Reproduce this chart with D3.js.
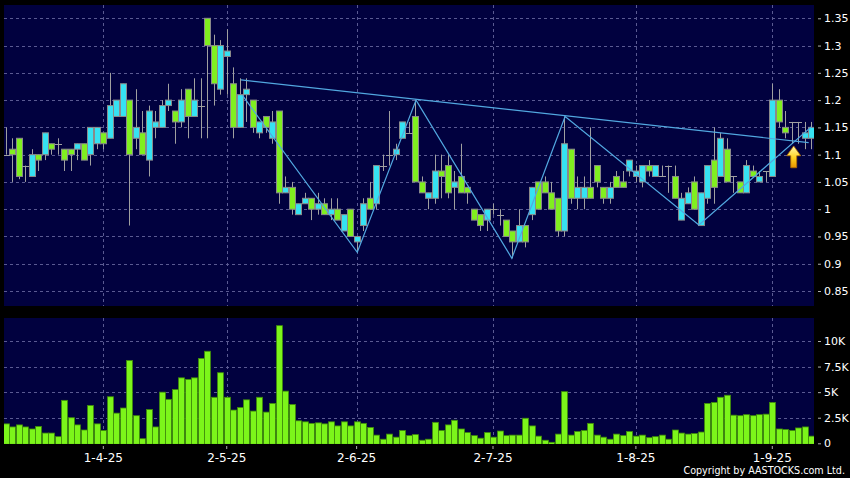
<!DOCTYPE html>
<html><head><meta charset="utf-8">
<script src="https://cdn.jsdelivr.net/npm/d3@7"></script>
<style>
html,body{margin:0;padding:0;background:#000;}
svg{display:block;}
text{font-family:"DejaVu Sans",Verdana,sans-serif;fill:#fff;}
</style></head><body>
<svg id="c" width="850" height="478"></svg>
<script>
// ---------- DATA ----------
const dates = [
 "11-3-25","12-3-25","13-3-25","14-3-25","17-3-25","18-3-25","19-3-25","20-3-25","21-3-25","24-3-25","25-3-25","26-3-25","27-3-25","28-3-25","31-3-25",
 "1-4-25","2-4-25","3-4-25","7-4-25","8-4-25","9-4-25","10-4-25","11-4-25","14-4-25","15-4-25","16-4-25","17-4-25","22-4-25","23-4-25","24-4-25","25-4-25","28-4-25","29-4-25","30-4-25",
 "2-5-25","6-5-25","7-5-25","8-5-25","9-5-25","12-5-25","13-5-25","14-5-25","15-5-25","16-5-25","19-5-25","20-5-25","21-5-25","22-5-25","23-5-25","26-5-25","27-5-25","28-5-25","29-5-25","30-5-25",
 "2-6-25","3-6-25","4-6-25","5-6-25","6-6-25","9-6-25","10-6-25","11-6-25","12-6-25","13-6-25","16-6-25","17-6-25","18-6-25","19-6-25","20-6-25","23-6-25","24-6-25","25-6-25","26-6-25","27-6-25","30-6-25",
 "2-7-25","3-7-25","4-7-25","7-7-25","8-7-25","9-7-25","10-7-25","11-7-25","14-7-25","15-7-25","16-7-25","17-7-25","18-7-25","21-7-25","22-7-25","23-7-25","24-7-25","25-7-25","28-7-25","29-7-25","30-7-25","31-7-25",
 "1-8-25","4-8-25","5-8-25","6-8-25","7-8-25","8-8-25","11-8-25","12-8-25","13-8-25","14-8-25","15-8-25","18-8-25","19-8-25","20-8-25","21-8-25","22-8-25","25-8-25","26-8-25","27-8-25","28-8-25","29-8-25",
 "1-9-25","2-9-25","3-9-25","4-9-25","5-9-25","8-9-25","9-9-25"];

const open = [1.10,1.11,1.13,1.08,1.06,1.10,1.10,1.12,1.12,1.11,1.11,1.11,1.12,1.10,1.12,
 1.14,1.13,1.17,1.17,1.20,1.13,1.14,1.09,1.15,1.15,1.19,1.18,1.16,1.22,1.17,1.19,1.35,1.30,1.22,
 1.28,1.23,1.15,1.21,1.20,1.14,1.17,1.13,1.18,1.03,1.04,0.99,1.01,1.02,1.00,1.01,0.99,1.00,0.96,1.00,
 0.94,0.97,1.02,1.01,1.08,1.10,1.10,1.13,1.14,1.17,1.05,1.02,1.02,1.07,1.08,1.04,1.06,1.04,1.00,0.99,0.98,
 1.00,0.99,0.98,0.96,0.94,0.97,0.99,1.05,1.05,1.03,1.02,0.96,1.11,1.02,1.02,1.04,1.08,1.04,1.02,1.06,1.05,1.07,
 1.06,1.05,1.08,1.06,1.06,1.08,1.06,0.98,1.01,1.05,0.97,1.02,1.09,1.06,1.11,1.06,1.05,1.03,1.07,1.05,1.07,
 1.06,1.20,1.15,1.16,1.16,1.13,1.13];
const high = [1.15,1.13,1.13,1.08,1.11,1.10,1.14,1.12,1.13,1.11,1.11,1.12,1.12,1.15,1.15,
 1.14,1.25,1.20,1.23,1.20,1.22,1.18,1.19,1.18,1.20,1.23,1.18,1.22,1.22,1.24,1.24,1.35,1.32,1.31,
 1.33,1.26,1.24,1.24,1.20,1.16,1.17,1.18,1.18,1.06,1.05,1.01,1.03,1.02,1.03,1.02,1.02,1.02,0.99,1.00,
 0.95,1.02,1.05,1.08,1.10,1.18,1.12,1.16,1.16,1.20,1.06,1.03,1.10,1.10,1.10,1.07,1.12,1.04,1.00,0.99,1.00,
 1.01,1.00,0.98,0.96,1.00,0.97,1.04,1.05,1.06,1.05,1.02,1.17,1.11,1.06,1.06,1.15,1.08,1.04,1.05,1.07,1.07,1.09,
 1.08,1.08,1.09,1.08,1.08,1.08,1.08,1.03,1.04,1.06,1.03,1.08,1.15,1.14,1.13,1.06,1.05,1.09,1.08,1.07,1.07,
 1.23,1.22,1.18,1.16,1.16,1.16,1.16];
const low = [1.10,1.05,1.055,1.05,1.06,1.07,1.09,1.10,1.10,1.07,1.07,1.09,1.09,1.08,1.11,
 1.11,1.13,1.17,1.17,0.97,1.11,1.10,1.06,1.13,1.15,1.18,1.12,1.15,1.13,1.17,1.13,1.13,1.19,1.21,
 1.21,1.13,1.15,1.16,1.14,1.13,1.14,1.12,1.01,1.03,0.99,0.99,1.01,0.98,0.99,0.99,0.98,0.98,0.96,0.95,
 0.92,0.96,1.00,1.00,1.07,1.08,1.09,1.13,1.14,1.05,1.03,1.00,1.01,1.02,1.02,1.00,1.03,1.01,0.98,0.96,0.96,
 0.99,0.97,0.95,0.91,0.94,0.93,0.98,1.00,1.03,1.00,0.95,0.95,1.01,1.00,1.00,1.02,1.04,1.01,1.01,1.04,1.04,1.06,
 1.05,1.04,1.06,1.06,1.06,1.03,1.02,0.98,1.01,1.00,0.97,1.01,1.01,1.06,1.05,1.03,1.03,1.03,1.06,1.05,1.05,
 1.06,1.15,1.13,1.12,1.12,1.11,1.11];
const close = [1.10,1.10,1.06,1.08,1.10,1.09,1.14,1.11,1.12,1.09,1.10,1.12,1.09,1.15,1.15,
 1.12,1.19,1.20,1.23,1.10,1.15,1.10,1.18,1.16,1.19,1.20,1.16,1.20,1.17,1.20,1.19,1.30,1.23,1.30,
 1.29,1.15,1.21,1.22,1.15,1.16,1.15,1.16,1.03,1.04,1.00,1.01,1.02,1.00,1.01,0.99,1.00,0.98,0.99,0.95,
 0.95,1.01,1.00,1.08,1.08,1.10,1.11,1.16,1.14,1.05,1.03,1.03,1.07,1.06,1.03,1.05,1.03,1.03,0.98,0.97,1.00,
 1.00,0.99,0.95,0.94,0.97,0.94,1.04,1.00,1.03,1.00,0.96,1.12,1.02,1.04,1.04,1.02,1.05,1.02,1.04,1.04,1.04,1.09,
 1.07,1.08,1.07,1.08,1.06,1.08,1.02,1.02,1.03,1.00,1.03,1.08,1.04,1.13,1.05,1.06,1.03,1.08,1.06,1.06,1.07,
 1.20,1.16,1.14,1.16,1.16,1.14,1.15];
const volume = [1900,1600,1800,1600,1400,1650,1000,1000,650,4200,2500,1800,1300,3700,1900,
 1250,4550,2950,3450,8100,2700,450,3300,1600,5000,4300,5250,6400,6250,6400,8300,9000,4500,6900,
 4500,3250,3500,4250,3150,4500,3050,3900,11500,5100,3800,2200,2100,1950,2000,1900,2100,1700,2100,1700,
 2100,1950,1550,800,400,900,600,1250,750,850,300,400,2050,1250,1800,2250,1400,1050,750,500,1050,
 600,1200,750,800,800,2450,1700,700,300,100,900,5050,800,1150,1250,1950,800,600,400,900,750,1150,
 700,800,550,650,800,400,1300,1000,900,950,1100,3900,4000,4500,4700,2750,2700,2800,2700,2800,2850,
 4000,1400,1350,1250,1500,1600,700];

const tickDates = ["1-4-25","2-5-25","2-6-25","2-7-25","1-8-25","1-9-25"];
const priceTicks = [0.85,0.9,0.95,1.0,1.05,1.1,1.15,1.2,1.25,1.3,1.35];
const volumeTicks = [0,2500,5000,7500,10000];
// pattern lines: [day index, price]
const zigzag = [[36.4,1.209],[54.1,0.921],[63.15,1.20],[77.9,0.91],[86.1,1.17],[106.7,0.971],[124,1.151]];
const trendLine = [[36.2,1.237],[123.6,1.122]];
const arrowMark = {at:121.3, tip:1.116, base:1.076};
const copyright = "Copyright by AASTOCKS.com Ltd.";

// ---------- LAYOUT ----------
const W=850,H=478;
const P={l:4,r:814,t:5,b:306};
const V={l:4,r:814,t:318,b:444};
const C={navy:"#01013f",grid:"#5a5a92",green:"#80ef1f",cyan:"#36e2f2",edge:"#8a8a8a",wick:"#a0a0a0",
 vol:"#7cf51a",volEdge:"#3f8a0a",line:"#52a8e0",tick:"#b0b0b0"};

const svg=d3.select("#c");
svg.append("rect").attr("width",W).attr("height",H).attr("fill","#000");

const x=d3.scaleBand().domain(dates).range([2.66,814.5]).padding(0);
const bw=x.bandwidth();
const cx=d=>x(d)+bw/2;
const xi=d3.scaleLinear().domain([0,dates.length-1]).range([cx(dates[0]),cx(dates[dates.length-1])]);
const y=d3.scaleLinear().domain([0.85,1.35]).range([291,18.3]);
const yv=d3.scaleLinear().domain([0,10000]).range([443.3,341]);

const defs=svg.append("defs");
defs.append("clipPath").attr("id","cp").append("rect").attr("x",P.l).attr("y",P.t).attr("width",P.r-P.l).attr("height",P.b-P.t);
defs.append("clipPath").attr("id","cv").append("rect").attr("x",V.l).attr("y",V.t).attr("width",V.r-V.l).attr("height",V.b-V.t);
const g=defs.append("linearGradient").attr("id","ag").attr("x1",0).attr("y1",0).attr("x2",0).attr("y2",1);
g.append("stop").attr("offset","0%").attr("stop-color","#fffbb0");
g.append("stop").attr("offset","55%").attr("stop-color","#ffd21e");
g.append("stop").attr("offset","100%").attr("stop-color","#e89400");

// panels
svg.append("rect").attr("x",P.l).attr("y",P.t).attr("width",P.r-P.l).attr("height",P.b-P.t).attr("fill",C.navy);
svg.append("rect").attr("x",V.l).attr("y",V.t).attr("width",V.r-V.l).attr("height",V.b-V.t).attr("fill",C.navy);

// grids
const gp=svg.append("g").attr("clip-path","url(#cp)");
gp.selectAll("line.h").data(priceTicks).join("line")
 .attr("x1",P.l).attr("x2",P.r).attr("y1",d=>Math.round(y(d))+0.5).attr("y2",d=>Math.round(y(d))+0.5)
 .attr("stroke",C.grid).attr("stroke-dasharray","3,3");
gp.selectAll("line.v").data(tickDates).join("line")
 .attr("x1",d=>Math.round(cx(d))+0.5).attr("x2",d=>Math.round(cx(d))+0.5).attr("y1",P.t).attr("y2",P.b)
 .attr("stroke",C.grid).attr("stroke-dasharray","3,3");
const gv=svg.append("g").attr("clip-path","url(#cv)");
gv.selectAll("line.h").data(volumeTicks.filter(v=>v>0)).join("line")
 .attr("x1",V.l).attr("x2",V.r).attr("y1",d=>Math.round(yv(d))+0.5).attr("y2",d=>Math.round(yv(d))+0.5)
 .attr("stroke",C.grid).attr("stroke-dasharray","3,3");
gv.selectAll("line.v").data(tickDates).join("line")
 .attr("x1",d=>Math.round(cx(d))+0.5).attr("x2",d=>Math.round(cx(d))+0.5).attr("y1",V.t).attr("y2",V.b)
 .attr("stroke",C.grid).attr("stroke-dasharray","3,3");

// candles
const rows=dates.map((d,i)=>({d,o:open[i],h:high[i],l:low[i],c:close[i],v:volume[i]}));
const cg=gp.append("g");
cg.selectAll("line.w").data(rows).join("line")
 .attr("x1",r=>Math.round(cx(r.d))+0.5).attr("x2",r=>Math.round(cx(r.d))+0.5)
 .attr("y1",r=>y(r.h)).attr("y2",r=>y(r.l)).attr("stroke",C.wick).attr("stroke-width",1);
const bodies=rows.filter(r=>Math.abs(r.o-r.c)>1e-9);
const dojis=rows.filter(r=>Math.abs(r.o-r.c)<=1e-9);
cg.selectAll("rect.b").data(bodies).join("rect")
 .attr("x",r=>Math.round(cx(r.d))-2.5).attr("width",6)
 .attr("y",r=>y(Math.max(r.o,r.c))).attr("height",r=>Math.max(1,y(Math.min(r.o,r.c))-y(Math.max(r.o,r.c))))
 .attr("fill",r=>r.c>r.o?C.cyan:C.green).attr("stroke",C.edge).attr("stroke-width",1);
cg.selectAll("line.dj").data(dojis).join("line")
 .attr("x1",r=>Math.round(cx(r.d))-3).attr("x2",r=>Math.round(cx(r.d))+4)
 .attr("y1",r=>Math.round(y(r.c))+0.5).attr("y2",r=>Math.round(y(r.c))+0.5).attr("stroke",C.wick);

// pattern lines
const ln=d3.line().x(p=>xi(p[0])).y(p=>y(p[1]));
gp.append("path").attr("d",ln(trendLine)).attr("fill","none").attr("stroke",C.line).attr("stroke-width",1.2);
gp.append("path").attr("d",ln(zigzag)).attr("fill","none").attr("stroke",C.line).attr("stroke-width",1.2);

// arrow
const ax=xi(arrowMark.at), at=y(arrowMark.tip), ab=y(arrowMark.base);
const hh=(ab-at)*0.45;
gp.append("path").attr("d",`M${ax},${at} L${ax+7},${at+hh} L${ax+3},${at+hh} L${ax+3},${ab} L${ax-3},${ab} L${ax-3},${at+hh} L${ax-7},${at+hh} Z`)
 .attr("fill","url(#ag)").attr("stroke","#b06a00").attr("stroke-width",0.8);

// volume bars
gv.selectAll("rect.v").data(rows).join("rect")
 .attr("x",r=>Math.round(cx(r.d))-2.5).attr("width",6)
 .attr("y",r=>yv(r.v)).attr("height",r=>yv(0)-yv(r.v)+1)
 .attr("fill",C.vol).attr("stroke",C.volEdge).attr("stroke-width",0.8);

// axes
const ya=svg.append("g").attr("transform",`translate(${P.r+4},0)`)
 .call(d3.axisRight(y).tickValues(priceTicks).tickSize(3).tickPadding(3).tickFormat(d=>String(+d.toFixed(2))));
const va=svg.append("g").attr("transform",`translate(${V.r+4},0)`)
 .call(d3.axisRight(yv).tickValues(volumeTicks).tickSize(3).tickPadding(3).tickFormat(d=>d===0?"0":(d/1000)+"K"));
const xa=svg.append("g").attr("transform",`translate(0,${V.b+2})`)
 .call(d3.axisBottom(x).tickValues(tickDates).tickSize(3).tickPadding(4));
[ya,va,xa].forEach(a=>{
  a.select(".domain").remove();
  a.selectAll(".tick line").attr("stroke",C.tick);
  a.selectAll("text").attr("fill","#fff").attr("font-family","DejaVu Sans, Verdana, sans-serif");
});
ya.selectAll("text").attr("font-size",11);
va.selectAll("text").attr("font-size",11);
xa.selectAll("text").attr("font-size",12);

svg.append("text").attr("x",845).attr("y",473.5).attr("text-anchor","end").attr("font-size",9.6)
 .text(copyright);
</script>
</body></html>
